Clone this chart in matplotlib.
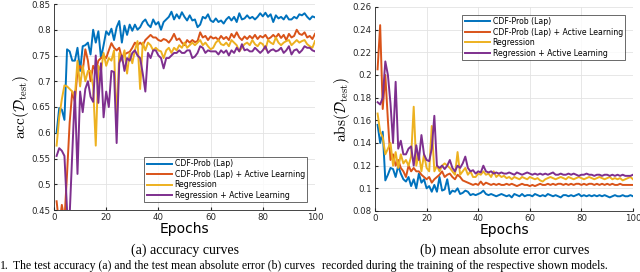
import matplotlib.pyplot as plt

plt.rcParams['mathtext.fontset'] = 'cm'

epochs = list(range(1, 101))

# accuracy curves (a)
acc_cdf = [0.600, 0.648, 0.645, 0.625, 0.762, 0.758, 0.740, 0.740, 0.765, 0.720,
           0.768, 0.770, 0.775, 0.752, 0.800, 0.775, 0.797, 0.745, 0.770, 0.797,
           0.790, 0.802, 0.780, 0.805, 0.817, 0.775, 0.808, 0.790, 0.810, 0.798,
           0.810, 0.800, 0.805, 0.815, 0.820, 0.810, 0.805, 0.820, 0.810, 0.815,
           0.800, 0.815, 0.820, 0.825, 0.835, 0.820, 0.830, 0.822, 0.834, 0.825,
           0.818, 0.828, 0.818, 0.820, 0.805, 0.810, 0.825, 0.822, 0.830, 0.818,
           0.815, 0.822, 0.815, 0.818, 0.812, 0.820, 0.825, 0.818, 0.825, 0.815,
           0.832, 0.820, 0.822, 0.828, 0.822, 0.825, 0.820, 0.825, 0.832, 0.826,
           0.833, 0.825, 0.830, 0.815, 0.828, 0.822, 0.825, 0.820, 0.828, 0.820,
           0.820, 0.825, 0.822, 0.830, 0.828, 0.832, 0.825, 0.820, 0.826, 0.824]
acc_cdf_al = [0.467, 0.420, 0.460, 0.430, 0.520, 0.620, 0.680, 0.660, 0.720, 0.730,
              0.720, 0.762, 0.740, 0.700, 0.730, 0.720, 0.740, 0.745, 0.750, 0.745,
              0.760, 0.774, 0.765, 0.760, 0.765, 0.745, 0.752, 0.755, 0.757, 0.765,
              0.775, 0.770, 0.775, 0.770, 0.780, 0.785, 0.790, 0.785, 0.785, 0.780,
              0.778, 0.782, 0.780, 0.775, 0.782, 0.792, 0.780, 0.783, 0.775, 0.770,
              0.780, 0.775, 0.780, 0.776, 0.778, 0.795, 0.785, 0.788, 0.780, 0.787,
              0.783, 0.785, 0.780, 0.788, 0.782, 0.786, 0.780, 0.792, 0.785, 0.795,
              0.785, 0.780, 0.787, 0.782, 0.788, 0.783, 0.790, 0.782, 0.788, 0.785,
              0.790, 0.782, 0.785, 0.790, 0.785, 0.792, 0.784, 0.790, 0.780, 0.792,
              0.785, 0.788, 0.800, 0.792, 0.790, 0.795, 0.785, 0.788, 0.782, 0.792]
acc_reg = [0.575, 0.630, 0.665, 0.692, 0.690, 0.685, 0.680, 0.670, 0.740, 0.690,
           0.730, 0.700, 0.720, 0.720, 0.690, 0.575, 0.730, 0.720, 0.755, 0.730,
           0.745, 0.740, 0.760, 0.620, 0.755, 0.740, 0.760, 0.715, 0.755, 0.735,
           0.760, 0.778, 0.685, 0.775, 0.760, 0.775, 0.770, 0.760, 0.765, 0.760,
           0.758, 0.745, 0.760, 0.765, 0.755, 0.765, 0.760, 0.770, 0.765, 0.775,
           0.765, 0.770, 0.775, 0.770, 0.775, 0.780, 0.770, 0.775, 0.768, 0.762,
           0.765, 0.775, 0.780, 0.772, 0.770, 0.775, 0.768, 0.780, 0.775, 0.770,
           0.758, 0.765, 0.772, 0.775, 0.770, 0.780, 0.772, 0.768, 0.775, 0.772,
           0.762, 0.780, 0.775, 0.772, 0.785, 0.775, 0.770, 0.775, 0.778, 0.780,
           0.770, 0.775, 0.780, 0.775, 0.778, 0.780, 0.772, 0.768, 0.765, 0.778]
acc_reg_al = [0.555, 0.570, 0.565, 0.555, 0.450, 0.440, 0.560, 0.680, 0.520, 0.680,
              0.640, 0.685, 0.700, 0.670, 0.660, 0.750, 0.658, 0.735, 0.630, 0.680,
              0.650, 0.720, 0.718, 0.580, 0.735, 0.750, 0.720, 0.745, 0.740, 0.755,
              0.760, 0.750, 0.745, 0.715, 0.680, 0.755, 0.745, 0.760, 0.760, 0.750,
              0.745, 0.725, 0.745, 0.745, 0.750, 0.755, 0.755, 0.760, 0.755, 0.755,
              0.760, 0.760, 0.745, 0.748, 0.755, 0.768, 0.765, 0.755, 0.760, 0.758,
              0.758, 0.758, 0.752, 0.760, 0.755, 0.760, 0.750, 0.760, 0.755, 0.765,
              0.758, 0.772, 0.760, 0.762, 0.758, 0.758, 0.765, 0.760, 0.755, 0.760,
              0.768, 0.755, 0.760, 0.762, 0.758, 0.760, 0.765, 0.755, 0.760, 0.768,
              0.752, 0.760, 0.762, 0.755, 0.760, 0.768, 0.765, 0.765, 0.760, 0.758]

# mean absolute error curves (b)
mae_cdf = [0.156, 0.140, 0.150, 0.107, 0.112, 0.118, 0.117, 0.110, 0.120, 0.113,
           0.108, 0.106, 0.110, 0.102, 0.108, 0.100, 0.113, 0.105, 0.108, 0.100,
           0.102, 0.097, 0.103, 0.097, 0.110, 0.098, 0.099, 0.108, 0.095, 0.098,
           0.097, 0.100, 0.095, 0.096, 0.098, 0.097, 0.094, 0.095, 0.094, 0.095,
           0.096, 0.098, 0.095, 0.094, 0.095, 0.094, 0.093, 0.094, 0.095, 0.094,
           0.093, 0.094, 0.092, 0.095, 0.094, 0.093, 0.095, 0.093, 0.094, 0.094,
           0.093, 0.095, 0.094, 0.093, 0.094, 0.093, 0.095, 0.094, 0.093, 0.094,
           0.093, 0.092, 0.094, 0.094, 0.093, 0.094, 0.093, 0.094, 0.095, 0.093,
           0.094, 0.093, 0.094, 0.093, 0.094, 0.093, 0.094, 0.093, 0.094, 0.093,
           0.092, 0.093, 0.094, 0.093, 0.093, 0.094, 0.093, 0.093, 0.094, 0.093]
mae_cdf_al = [0.205, 0.244, 0.170, 0.200, 0.160, 0.125, 0.130, 0.120, 0.125, 0.118,
              0.115, 0.110, 0.120, 0.115, 0.118, 0.115, 0.115, 0.112, 0.110, 0.108,
              0.110, 0.105, 0.108, 0.110, 0.112, 0.115, 0.110, 0.112, 0.113, 0.110,
              0.108, 0.112, 0.110, 0.107, 0.106, 0.105, 0.104, 0.103, 0.104, 0.103,
              0.106, 0.103, 0.105, 0.104, 0.103, 0.104, 0.103, 0.104, 0.103, 0.103,
              0.104, 0.103, 0.104, 0.103, 0.102, 0.103, 0.104, 0.103, 0.103, 0.102,
              0.103, 0.102, 0.103, 0.104, 0.103, 0.103, 0.104, 0.103, 0.104, 0.103,
              0.104, 0.104, 0.103, 0.104, 0.103, 0.104, 0.103, 0.104, 0.104, 0.103,
              0.104, 0.103, 0.104, 0.104, 0.103, 0.104, 0.103, 0.104, 0.103, 0.104,
              0.103, 0.104, 0.103, 0.103, 0.104, 0.103, 0.103, 0.103, 0.103, 0.103]
mae_reg = [0.166, 0.150, 0.145, 0.130, 0.135, 0.140, 0.120, 0.132, 0.118, 0.130,
           0.122, 0.125, 0.120, 0.128, 0.172, 0.120, 0.130, 0.115, 0.130, 0.118,
           0.115, 0.155, 0.115, 0.120, 0.115, 0.120, 0.122, 0.120, 0.118, 0.115,
           0.112, 0.132, 0.112, 0.115, 0.118, 0.112, 0.115, 0.110, 0.110, 0.113,
           0.112, 0.115, 0.112, 0.113, 0.110, 0.115, 0.110, 0.112, 0.110, 0.111,
           0.109, 0.110, 0.108, 0.110, 0.109, 0.108, 0.110, 0.109, 0.108, 0.110,
           0.109, 0.108, 0.109, 0.107, 0.106, 0.108, 0.109, 0.110, 0.109, 0.108,
           0.109, 0.110, 0.109, 0.108, 0.110, 0.109, 0.108, 0.109, 0.110, 0.109,
           0.108, 0.109, 0.110, 0.109, 0.108, 0.109, 0.110, 0.109, 0.108, 0.109,
           0.110, 0.108, 0.109, 0.108, 0.109, 0.107, 0.108, 0.109, 0.110, 0.108]
mae_reg_al = [0.176, 0.174, 0.180, 0.212, 0.200, 0.175, 0.140, 0.194, 0.135, 0.142,
              0.130, 0.130, 0.135, 0.137, 0.120, 0.138, 0.125, 0.147, 0.130, 0.125,
              0.124, 0.135, 0.164, 0.120, 0.118, 0.120, 0.117, 0.120, 0.125, 0.118,
              0.115, 0.120, 0.118, 0.122, 0.128, 0.118, 0.115, 0.116, 0.113, 0.115,
              0.114, 0.120, 0.115, 0.114, 0.115, 0.113, 0.114, 0.113, 0.114, 0.113,
              0.113, 0.114, 0.113, 0.112, 0.114, 0.113, 0.112, 0.113, 0.114, 0.113,
              0.112, 0.113, 0.112, 0.113, 0.112, 0.113, 0.112, 0.113, 0.114, 0.112,
              0.112, 0.113, 0.112, 0.112, 0.113, 0.112, 0.113, 0.112, 0.111, 0.112,
              0.112, 0.113, 0.112, 0.112, 0.111, 0.112, 0.112, 0.111, 0.112, 0.112,
              0.111, 0.112, 0.111, 0.112, 0.111, 0.112, 0.111, 0.111, 0.111, 0.112]

labels = ['CDF-Prob (Lap)', 'CDF-Prob (Lap) + Active Learning',
          'Regression', 'Regression + Active Learning']
colors = ['#0072BD', '#D95319', '#EDB120', '#7E2F8E']

W, H = 640, 272
fig = plt.figure(figsize=(6.4, 2.72), dpi=100)
ax1 = fig.add_axes([54 / W, 62 / H, 261 / W, 206 / H])
ax2 = fig.add_axes([375 / W, 61 / H, 258 / W, 204 / H])


def style(ax, yticks, ylabel):
    ax.set_xlim(0, 100)
    ax.set_ylim(yticks[0], yticks[-1])
    ax.set_xticks(range(0, 101, 20))
    ax.set_yticks(yticks)
    ax.set_yticklabels(['%g' % t for t in yticks])
    ax.tick_params(labelsize=6.2, colors='#262626', length=2, direction='in', pad=2.5)
    ax.grid(True, color='#e3e3e3', linewidth=0.6)
    ax.set_axisbelow(True)
    for s in ['top', 'right']:
        ax.spines[s].set_visible(False)
    for s in ['left', 'bottom']:
        ax.spines[s].set_color('#262626')
        ax.spines[s].set_linewidth(0.6)
    ax.set_xlabel('Epochs', fontsize=10, labelpad=0)
    ax.set_ylabel(ylabel, fontsize=11, labelpad=0)


series1 = [acc_cdf, acc_cdf_al, acc_reg, acc_reg_al]
series2 = [mae_cdf, mae_cdf_al, mae_reg, mae_reg_al]
for ys, lab, c in zip(series1, labels, colors):
    ax1.plot(epochs, ys, color=c, linewidth=1.4, label=lab)
for ys, lab, c in zip(series2, labels, colors):
    ax2.plot(epochs, ys, color=c, linewidth=1.4, label=lab)

acc_ticks = [0.45, 0.5, 0.55, 0.6, 0.65, 0.7, 0.75, 0.8, 0.85]
mae_ticks = [0.08, 0.1, 0.12, 0.14, 0.16, 0.18, 0.2, 0.22, 0.24, 0.26]
style(ax1, acc_ticks, r'$\mathrm{acc}(\mathcal{D}_{\mathrm{test}})$')
style(ax2, mae_ticks, r'$\mathrm{abs}(\mathcal{D}_{\mathrm{test}})$')

for ax, loc in [(ax1, 'lower right'), (ax2, 'upper right')]:
    leg = ax.legend(loc=loc, fontsize=5.6, frameon=True, fancybox=False,
                    borderpad=0.3, labelspacing=0.2, handlelength=3.3,
                    handletextpad=0.3, borderaxespad=1.0)
    leg.get_frame().set_edgecolor('#262626')
    leg.get_frame().set_linewidth(0.6)

fig.text(185 / W, 1 - 250 / H, '(a) accuracy curves', ha='center', va='center',
         fontsize=10, family='Liberation Serif')
fig.text(505 / W, 1 - 250 / H, '(b) mean absolute error curves', ha='center',
         va='center', fontsize=10, family='Liberation Serif')
fig.text(0, 1 - 266 / H, '1.', ha='left', va='center', fontsize=8.5,
         family='Liberation Serif')
fig.text(13 / W, 1 - 266 / H,
         'The test accuracy (a) and the test mean absolute error (b) curves',
         ha='left', va='center', fontsize=8.5, family='Liberation Serif')
fig.text(322 / W, 1 - 266 / H,
         'recorded during the training of the respective shown models.',
         ha='left', va='center', fontsize=8.5, family='Liberation Serif')

fig.savefig('out.png', dpi=100)
